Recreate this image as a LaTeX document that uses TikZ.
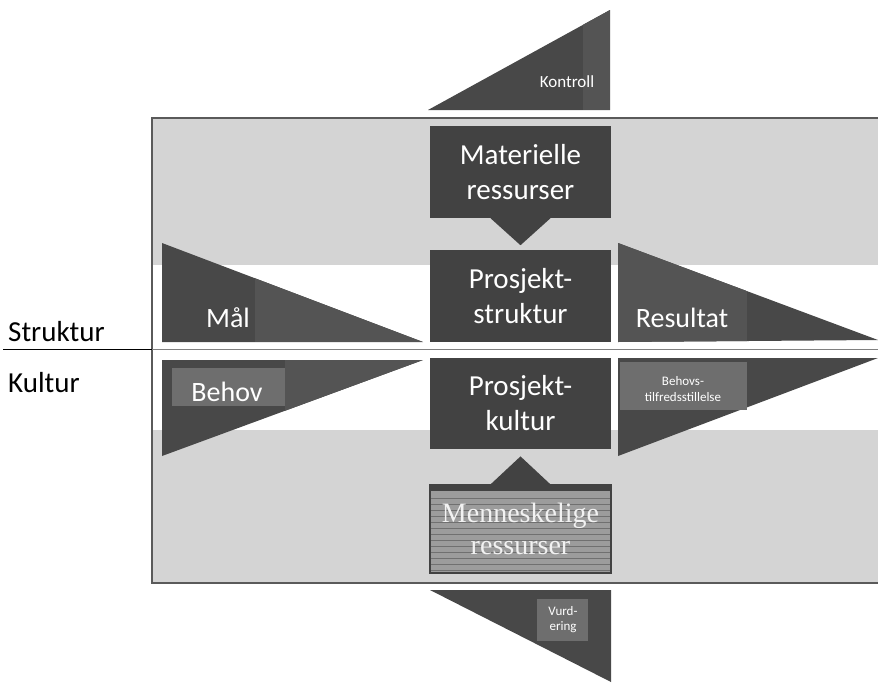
\documentclass[tikz,border=0pt]{standalone}
\usepackage{fontspec}
\setmainfont{Carlito}
\newfontfamily\serifface{Liberation Serif}
\definecolor{band}{HTML}{D4D4D4}
\definecolor{framecol}{HTML}{5A5A5A}
\definecolor{boxdark}{HTML}{424242}
\definecolor{shapedark}{HTML}{484848}
\definecolor{shapemid}{HTML}{545454}
\definecolor{shapelight}{HTML}{6E6E6E}
\definecolor{hrbox}{HTML}{9C9C9C}
\definecolor{hrline}{HTML}{707070}
\begin{document}
\begin{tikzpicture}[x=1pt,y=-1pt,
  boxnode/.style={fill=boxdark, text=white, minimum width=181pt, align=center,
    inner sep=0pt, font=\fontsize{29}{35}\selectfont},
  lbl/.style={text=white, inner sep=0pt, align=center, font=\fontsize{28}{33}\selectfont},
  sidelbl/.style={text=black, inner sep=0pt, anchor=base west, font=\fontsize{29}{32}\selectfont},
  pointer/.style={fill=boxdark},
]
\useasboundingbox (0,0) rectangle (878,686);

% background bands of the frame
\fill[band] (152,118) rectangle (878,265);
\fill[band] (152,430) rectangle (878,583);
\draw[framecol, line width=1.2pt] (878,118) -- (152,118) -- (152,583) -- (878,583);

% structure / culture divider
\coordinate (divL) at (3,349);
\coordinate (divM) at (152,349);
\coordinate (divR) at (878,349);
\draw[black, line width=0.8pt] (divL) -- (divM);
\draw[gray, line width=0.8pt] (divM) -- (divR);
\node[sidelbl] (struktur) at (8,341) {Struktur};
\node[sidelbl] (kultur) at (8,392) {Kultur};

% Kontroll (top)
\fill[shapedark] (428,110) -- (610,110) -- (610,10) -- cycle;
\begin{scope}
  \clip (428,110) -- (610,110) -- (610,10) -- cycle;
  \fill[shapemid] (583,10) rectangle (610,110);
\end{scope}
\node[lbl, font=\fontsize{17}{20}\selectfont] (kontroll) at (567,82) {Kontroll};

% Vurdering (bottom)
\fill[shapedark] (430,590) -- (611,590) -- (611,682) -- cycle;
\fill[shapelight] (537,599) rectangle (588,641);
\node[lbl, font=\fontsize{13}{15}\selectfont] (vurdering) at (563,620) {Vurd-\\ering};

% Maal
\fill[shapedark] (162,243) -- (162,342) -- (423,342) -- cycle;
\begin{scope}
  \clip (162,243) -- (162,342) -- (423,342) -- cycle;
  \fill[shapemid] (255,243) rectangle (423,342);
\end{scope}
\node[lbl] (maal) at (228,318) {Mål};

% Resultat
\fill[shapedark] (618,243) -- (618,342) -- (878,340) -- cycle;
\begin{scope}
  \clip (618,243) -- (618,342) -- (878,340) -- cycle;
  \fill[shapemid] (618,243) rectangle (747,342);
\end{scope}
\node[lbl] (resultat) at (682,318) {Resultat};

% Behov
\fill[shapedark] (162,360) -- (423,360) -- (162,456) -- cycle;
\begin{scope}
  \clip (162,360) -- (423,360) -- (162,456) -- cycle;
  \fill[shapemid] (285,360) rectangle (423,456);
\end{scope}
\fill[shapelight] (172,368) rectangle (285,406);
\node[lbl] (behov) at (227,392) {Behov};

% Behovstilfredsstillelse
\fill[shapedark] (618,358) -- (878,358) -- (618,456) -- cycle;
\fill[shapelight] (620,362) rectangle (747,410);
\node[lbl, font=\fontsize{13}{16}\selectfont] (tilfr) at (683,389) {Behovs-\\tilfredsstillelse};

% central column
\node[boxnode, minimum height=92pt] (mat) at (520.5,172) {Materielle\\ressurser};
\fill[pointer] ([xshift=-30pt]mat.south) -- ([xshift=30pt]mat.south) -- ([yshift=-27pt]mat.south) -- cycle;

\node[boxnode, minimum height=92pt] (pstrukt) at (520.5,296) {Prosjekt-\\struktur};
\node[boxnode, minimum height=91pt] (pkultur) at (520.5,403.5) {Prosjekt-\\kultur};

\node[draw=boxdark, line width=1.2pt, fill=hrbox, minimum width=181pt, minimum height=88pt,
  inner sep=0pt] (menn) at (520.5,529) {};
\fill[boxdark] (menn.north west) rectangle ([yshift=-7pt]menn.north east);
\foreach \yy in {498,504,...,570}
  \draw[hrline, line width=0.6pt] (431,\yy) -- (610,\yy);
\node[text=white!90!gray, align=center, inner sep=0pt,
  font=\serifface\fontsize{28}{32}\selectfont] (mennlbl) at (menn.center) {Menneskelige\\ressurser};
\fill[pointer] ([xshift=-30pt]menn.north) -- ([xshift=30pt]menn.north) -- ([yshift=28pt]menn.north) -- cycle;
\end{tikzpicture}
\end{document}
